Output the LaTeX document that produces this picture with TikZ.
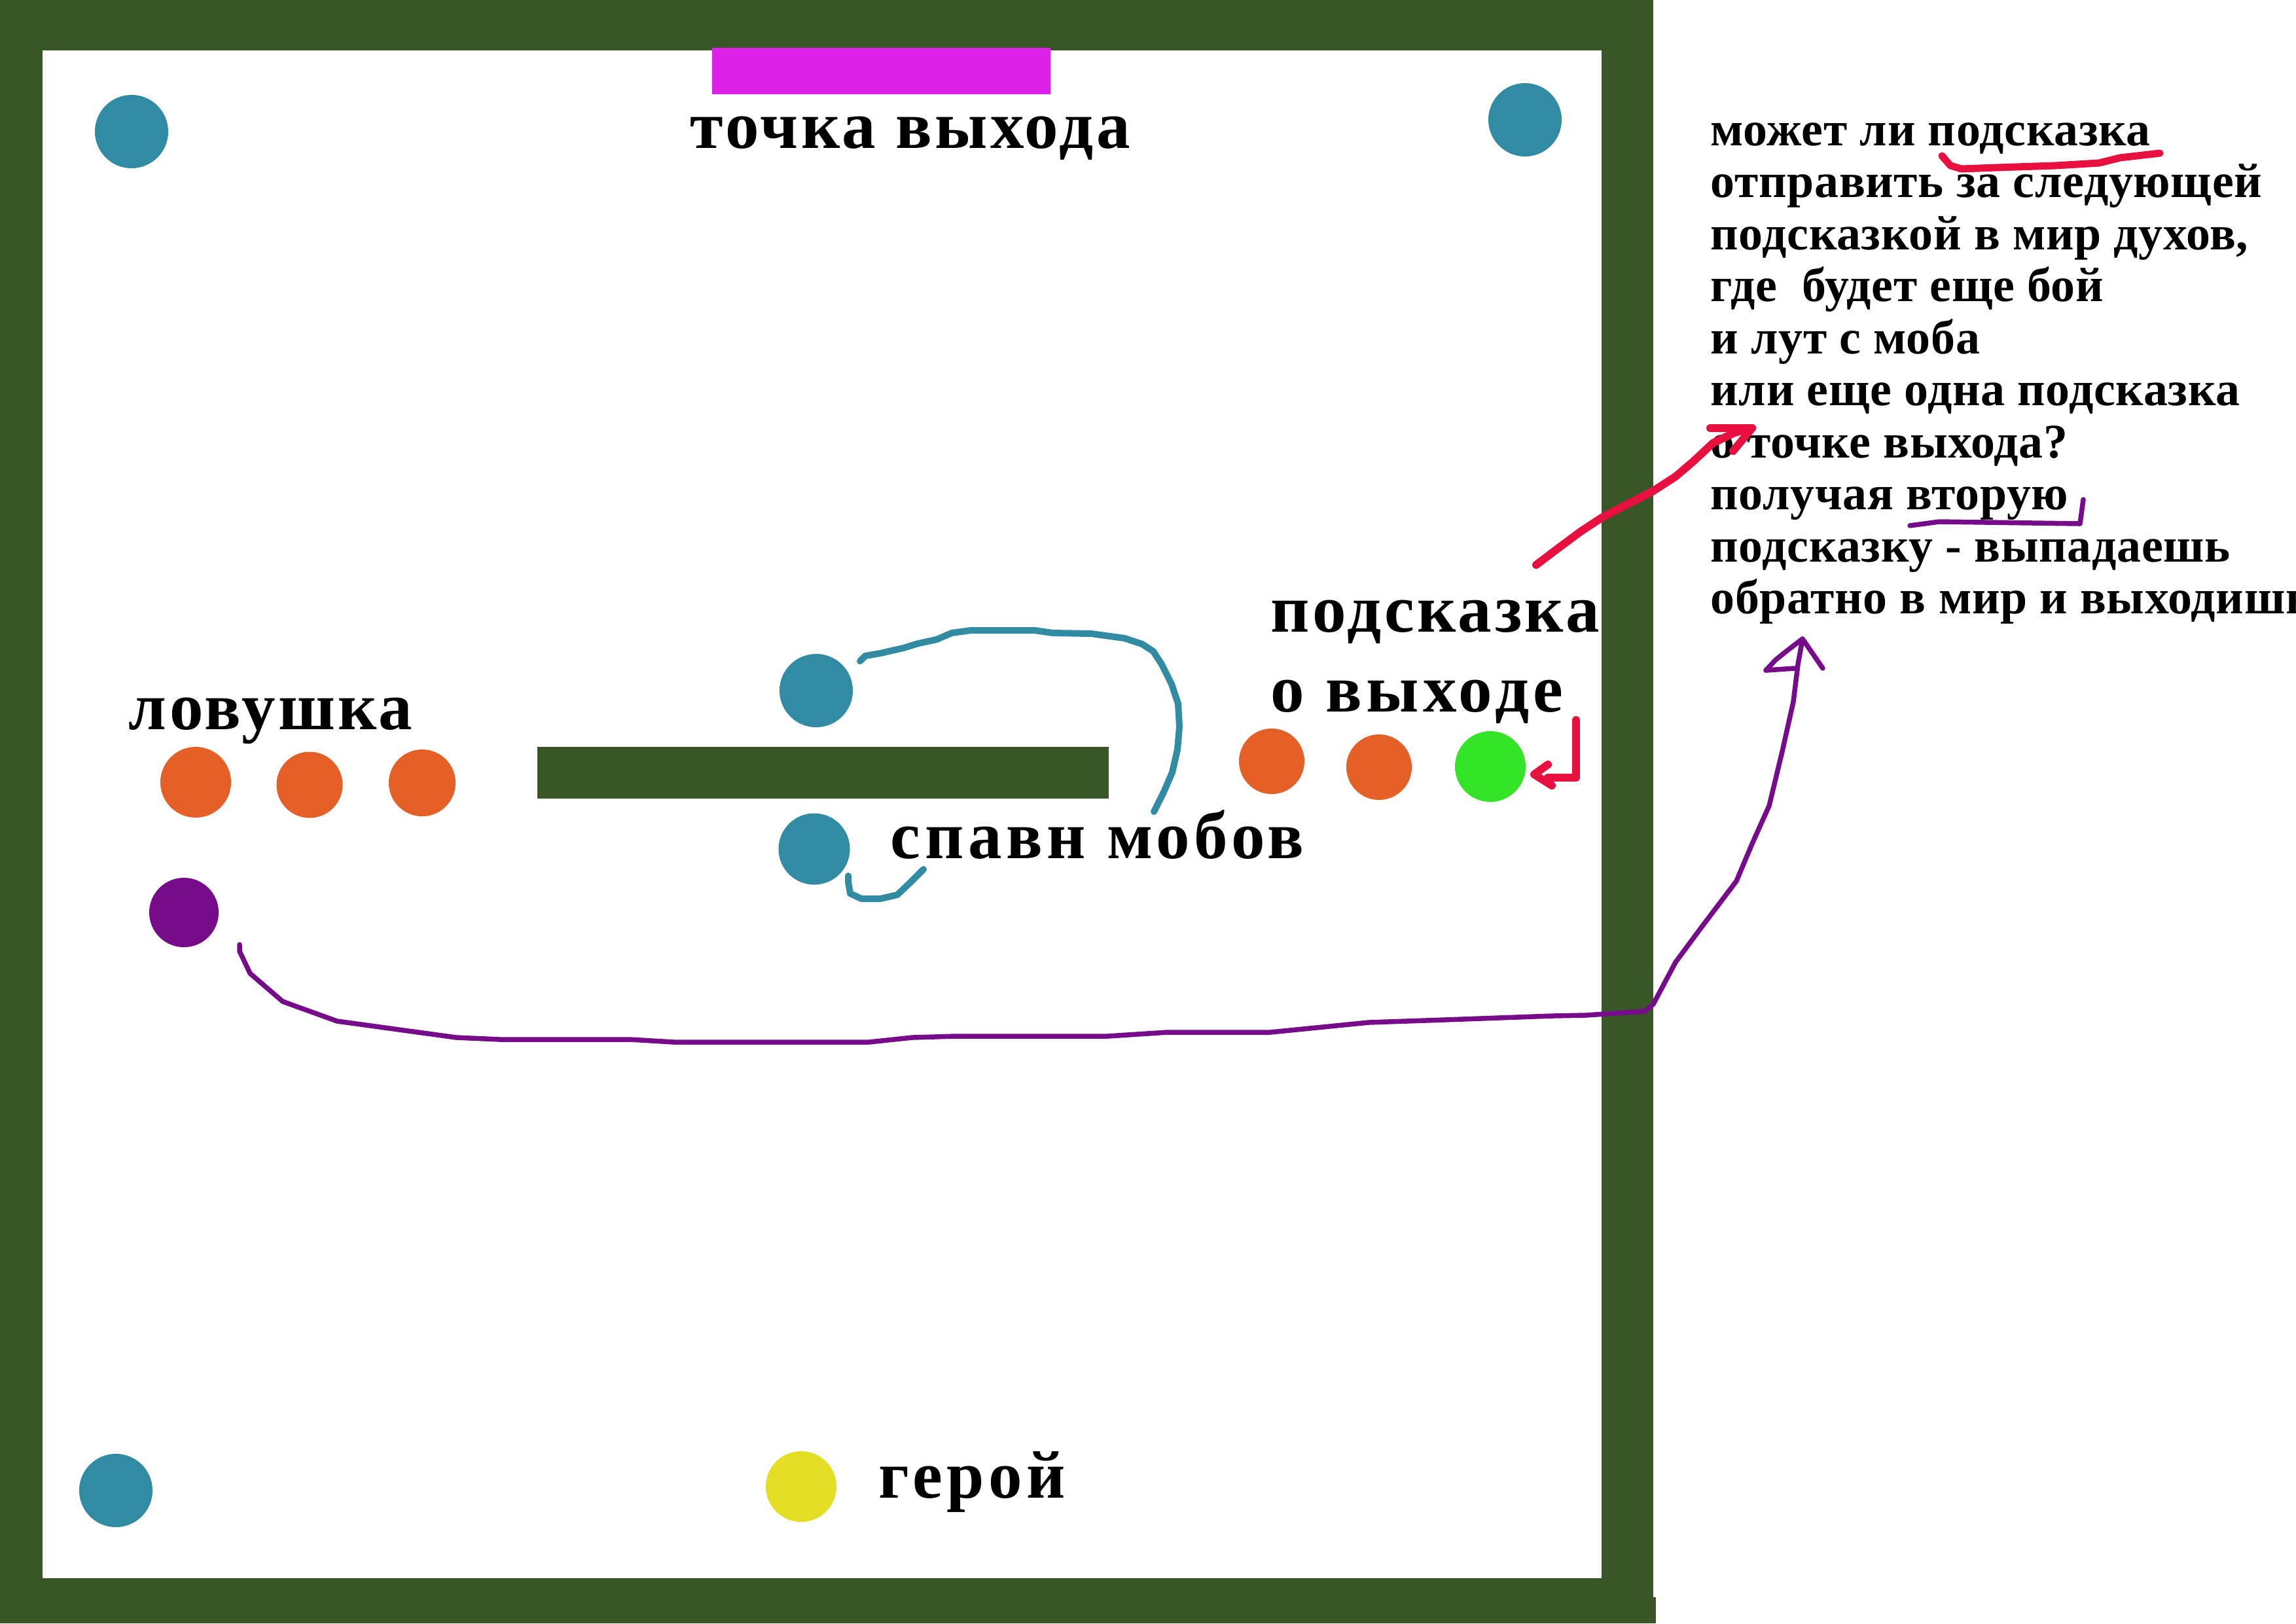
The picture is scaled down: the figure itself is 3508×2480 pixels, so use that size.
\documentclass[tikz,border=0pt]{standalone}
\usepackage{fontspec}
\setmainfont{Liberation Serif}
\definecolor{wallgreen}{HTML}{385626}
\definecolor{mobteal}{HTML}{318BA2}
\definecolor{trapor}{HTML}{E46026}
\definecolor{hintgreen}{HTML}{33E526}
\definecolor{heroyel}{HTML}{E4DE24}
\definecolor{portal}{HTML}{760C8A}
\definecolor{exitmag}{HTML}{DC22E6}
\definecolor{inkred}{HTML}{E8103F}
\newcommand{\biglabel}{\fontsize{29.3pt}{35pt}\selectfont\bfseries\addfontfeatures{LetterSpace=4.4}}
\newcommand{\widelabel}{\fontsize{29.3pt}{35pt}\selectfont\bfseries\addfontfeatures{LetterSpace=6.4}}
\newcommand{\notetext}{\fontsize{21pt}{25pt}\selectfont\bfseries\addfontfeatures{LetterSpace=1.0}}
\begin{document}
\begin{tikzpicture}[x=0.01cm,y=-0.01cm,
	spot/.style={circle,fill=#1,inner sep=0pt,minimum size=1.12cm},
	lbl/.style={anchor=base west,inner sep=0pt,font=\biglabel},
	lblwide/.style={anchor=base west,inner sep=0pt,font=\widelabel},
	handline/.style={draw=#1,line cap=round,line join=round}]
			\clip (0,0) rectangle (3508,2480);
			% стены
			\fill[wallgreen] (0,0) rectangle (2526,2480);
			\fill[wallgreen] (2526,2440) rectangle (2530,2480);
			\fill[white] (65,77) rectangle (2447,2411);
			\fill[wallgreen] (821,1141) rectangle (1694,1220);
			\fill[exitmag] (1088,73) rectangle (1605,144);
			\node[lbl] (exit) at (1054,226) {точка выхода};
			% мобы по углам
			\node[spot=mobteal] (m1) at (201,201) {};
			\node[spot=mobteal] (m2) at (2330,183) {};
			\node[spot=mobteal] (m3) at (177,2277) {};
			\node[spot=mobteal] (m4) at (1247,1055) {};
			\node[spot=mobteal,minimum size=1.09cm] (m5) at (1244,1297) {};
			\node[lblwide] (spawn) at (1360,1311) {спавн мобов};
			% ловушка
			\node[spot=trapor,minimum size=1.08cm] (t1) at (299,1195) {};
			\node[spot=trapor,minimum size=1.01cm] (t2) at (473,1199) {};
			\node[spot=trapor,minimum size=1.02cm] (t3) at (645,1196) {};
			\node[lbl] (trap) at (196,1114) {ловушка};
			\node[spot=portal,minimum size=1.06cm] (p1) at (281,1394) {};
			% подсказка
			\node[spot=trapor,minimum size=1.0cm] (h1) at (1943,1163) {};
			\node[spot=trapor,minimum size=1.0cm] (h2) at (2107,1172) {};
			\node[spot=hintgreen,minimum size=1.08cm] (h3) at (2277,1171) {};
			\node[lbl] (hint) at (1941,965) {подсказка};
			\node[lblwide] (hint2) at (1941,1087) {о выходе};
			% герой
			\node[spot=heroyel,minimum size=1.08cm] (hero) at (1224,2271) {};
			\node[lblwide] (herotxt) at (1342,2288) {герой};
			% вопрос справа
			\foreach \t [count=\i] in {может ли подсказка,отправить за следующей,{подсказкой в мир духов,},где~ будет еще бой,и лут с моба,или еще одна подсказка,о точке выхода?,получая вторую,подсказку - выпадаешь,обратно в мир и выходишь}
				\node[anchor=base west,inner sep=0pt,font=\notetext] (q\i) at (2613,{222+79.5*(\i-1)}) {\t};
			% бирюзовые линии
			\coordinate (s1) at (1314,1010);
			\coordinate (s2) at (1763,1240);
			\draw[handline=mobteal,line width=0.1cm] (s1) -- (1322,1002) -- (1345,998) -- (1380,990) -- (1403,983) -- (1431,977) -- (1454,967) -- (1483,963) -- (1581,963) -- (1609,967) -- (1667,968) -- (1718,975) -- (1745,984) -- (1762,995) -- (1775,1015) -- (1790,1045) -- (1800,1075) -- (1802,1110) -- (1799,1145) -- (1791,1180) -- (1778,1210) -- (s2);
			\coordinate (s3) at (1296,1338);
			\coordinate (s4) at (1411,1328);
			\draw[handline=mobteal,line width=0.1cm] (s3) -- (1296,1347) -- (1299,1365) -- (1316,1373) -- (1345,1373) -- (1371,1367) -- (1391,1348) -- (s4);
			% фиолетовый путь
			\coordinate (w1) at (366,1443);
			\coordinate (w2) at (2754,976);
			\draw[handline=portal,line width=0.075cm] (w1) -- (366,1453) -- (382,1487) -- (432,1530) -- (515,1560) -- (697,1585) -- (764,1588) -- (963,1588) -- (1029,1592) -- (1328,1592) -- (1394,1585) -- (1460,1583) -- (1692,1583) -- (1784,1577) -- (1941,1577) -- (2091,1562) -- (2207,1558) -- (2372,1552) -- (2422,1551) -- (2513,1545) -- (2526,1534) -- (2560,1470) -- (2600,1416) -- (2653,1346) -- (2677,1289) -- (2703,1231) -- (2723,1148) -- (2740,1072) -- (2747,1015) -- (w2);
			\draw[handline=portal,line width=0.075cm] (2698,1024) -- (2713,1008) -- (2733,992) -- (w2) -- (2785,1021);
			\draw[handline=portal,line width=0.075cm] (2698,1024) -- (2742,1021);
			\draw[handline=portal,line width=0.075cm] (2918,803) -- (2963,797) -- (3178,800) -- (3183,763);
			% красные стрелки
			\coordinate (r1) at (2347,863);
			\coordinate (r2) at (2677,654);
			\draw[handline=inkred,line width=0.12cm] (r1) -- (2380,838) -- (2415,812) -- (2447,791) -- (2483,772) -- (2526,750) -- (2560,728) -- (2587,705) -- (2617,677) -- (2650,661) -- (r2);
			\draw[handline=inkred,line width=0.12cm] (2613,654) -- (r2) -- (2648,689);
			\coordinate (r3) at (2408,1100);
			\coordinate (r4) at (2344,1183);
			\draw[handline=inkred,line width=0.12cm] (r3) -- (2408,1188) -- (2365,1188);
			\draw[handline=inkred,line width=0.12cm] (2365,1168) -- (r4) -- (2371,1200);
			\draw[handline=inkred,line width=0.11cm] (2967,238) -- (2980,253) -- (2997,258) -- (3050,256) -- (3140,253) -- (3207,249) -- (3239,241) -- (3300,234);
		\end{tikzpicture}
\end{document}
